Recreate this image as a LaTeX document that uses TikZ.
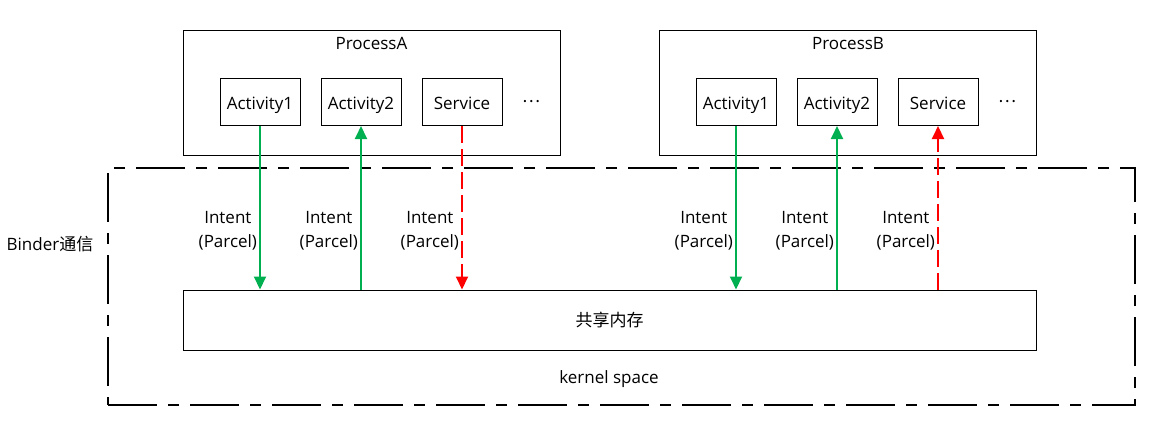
\documentclass[tikz,border=0pt]{standalone}
\usepackage{fontspec}
\setmainfont{Open Sans}
\newfontfamily\cjk{Noto Sans CJK SC}
\usetikzlibrary{arrows.meta,positioning}
\definecolor{Msg}{HTML}{00B050}
\definecolor{Back}{HTML}{FF0000}
\tikzset{
  proc/.style={draw, line width=1pt, minimum width=377pt, minimum height=125pt},
  comp/.style={draw, line width=1pt, minimum width=80pt, minimum height=47pt, inner sep=0pt, text height=14pt, text depth=0pt},
  shm/.style={draw, line width=1pt, minimum width=853pt, minimum height=60pt},
  kernel/.style={draw, line width=2pt, minimum width=1027pt, minimum height=237pt, dash pattern=on 49pt off 11pt on 11pt off 11pt},
  send/.style={-{Triangle[length=13pt,width=12pt]}, line width=2pt, draw=Msg},
  reply/.style={-{Triangle[length=13pt,width=12pt]}, line width=2pt, draw=Back, dash pattern=on 17pt off 6pt},
  lbl/.style={align=center, inner sep=2pt}
}
\begin{document}
\begin{tikzpicture}[x=1pt, y=-1pt, node distance=20pt, font=\fontsize{17}{24}\selectfont]
  \useasboundingbox (0,0) rectangle (1166,440);

  % kernel side
  \node[kernel] (ks) at (621.5,286.5) {};
  \node[shm] (mem) at (609.5,320) {\cjk 共享内存};
  \node (kstext) at (609,379) {kernel space};
  \node (binder) at (50,244) {Binder{\cjk 通信}};

  % process A
  \node[proc] (pa) at (371.5,92.5) {};
  \node[below=4pt of pa.north, inner sep=3.33pt] (patext) {ProcessA};
  \node[comp] (a1) at (260,102) {Activity1};
  \node[comp, right=of a1] (a2) {Activity2};
  \node[comp, right=of a2] (sa) {Service};
  \node (dotsa) at (531,102) {\cjk …};

  % process B
  \node[proc] (pb) at (848,92.5) {};
  \node[below=4pt of pb.north, inner sep=3.33pt] (pbtext) {ProcessB};
  \node[comp] (b1) at (736,102) {Activity1};
  \node[comp, right=of b1] (b2) {Activity2};
  \node[comp, right=of b2] (sb) {Service};
  \node (dotsb) at (1007,102) {\cjk …};

  % messages
  \draw[send] (a1.south) -- node[lbl, pos=0.64, left] {Intent\\(Parcel)} (mem.north -| a1.south);
  \draw[send] (mem.north -| a2.south) -- node[lbl, pos=0.36, left] {Intent\\(Parcel)} (a2.south);
  \draw[reply] (sa.south) -- node[lbl, pos=0.64, left] {Intent\\(Parcel)} (mem.north -| sa.south);
  \draw[send] (b1.south) -- node[lbl, pos=0.64, left] {Intent\\(Parcel)} (mem.north -| b1.south);
  \draw[send] (mem.north -| b2.south) -- node[lbl, pos=0.36, left] {Intent\\(Parcel)} (b2.south);
  \draw[reply] (mem.north -| sb.south) -- node[lbl, pos=0.36, left] {Intent\\(Parcel)} (sb.south);
\end{tikzpicture}
\end{document}
